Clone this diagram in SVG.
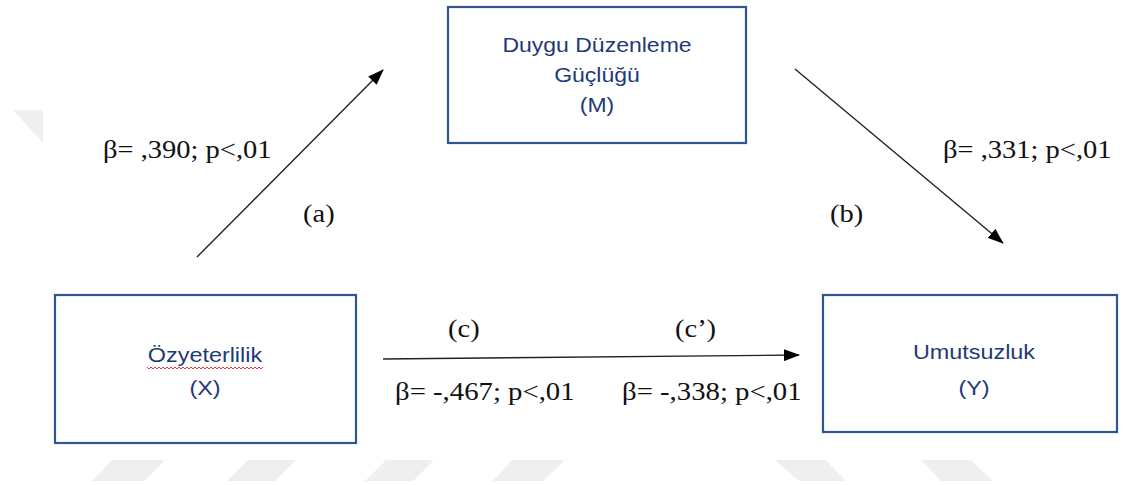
<svg xmlns="http://www.w3.org/2000/svg" width="1125" height="485" viewBox="0 0 1125 485">
<style>
.box{fill:#ffffff;stroke:#2f5597;stroke-width:2.2}
.lbl{font-family:"Liberation Sans",Arial,sans-serif;font-size:19.5px;fill:#1f3a78;text-anchor:middle}
.stat{font-family:"Liberation Serif","Times New Roman",serif;font-size:25px;fill:#111111}
.conn{stroke:#222222;stroke-width:1.4;fill:none;marker-end:url(#ah)}
.wm{fill:#efefef}
</style>
<defs>
<marker id="ah" viewBox="0 0 16 12" refX="15" refY="6" markerWidth="16" markerHeight="12" markerUnits="userSpaceOnUse" orient="auto">
<path d="M0,0 L16,6 L0,12 Z" fill="#000000"/>
</marker>
</defs>
<rect width="1125" height="485" fill="#ffffff"/>
<g id="watermark">
<polygon class="wm" points="13,110 43,110 43,143"/>
<polygon class="wm" points="112,460 165,460 145,481 92,481"/>
<polygon class="wm" points="248,460 296,460 275,481 227,481"/>
<polygon class="wm" points="386,460 434,460 413,481 365,481"/>
<polygon class="wm" points="512,460 565,460 543,481 493,481"/>
<polygon class="wm" points="775,460 826,460 846,481 799,481"/>
<polygon class="wm" points="921,460 971,460 993,481 941,481"/>
</g>
<g id="connectors">
<line class="conn" x1="197" y1="257" x2="383" y2="70"/>
<line class="conn" x1="795" y1="69" x2="1003" y2="243"/>
<line class="conn" x1="383" y1="359" x2="799" y2="355"/>
</g>
<g id="node-M">
<rect class="box" x="448" y="7" width="298" height="136"/>
<text class="lbl" transform="translate(597,52) scale(1.18,1)">Duygu Düzenleme</text>
<text class="lbl" transform="translate(597,82) scale(1.18,1)">Güçlüğü</text>
<text class="lbl" transform="translate(597,112) scale(1.18,1)">(M)</text>
</g>
<g id="node-X">
<rect class="box" x="55" y="295" width="301" height="148"/>
<text class="lbl" transform="translate(205,362) scale(1.2,1)">Özyeterlilik</text>
<path d="M147,367 l2,2 l2,-2 l2,2 l2,-2 l2,2 l2,-2 l2,2 l2,-2 l2,2 l2,-2 l2,2 l2,-2 l2,2 l2,-2 l2,2 l2,-2 l2,2 l2,-2 l2,2 l2,-2 l2,2 l2,-2 l2,2 l2,-2 l2,2 l2,-2 l2,2 l2,-2 l2,2 l2,-2 l2,2 l2,-2 l2,2 l2,-2 l2,2 l2,-2 l2,2 l2,-2 l2,2 l2,-2 l2,2 l2,-2 l2,2 l2,-2 l2,2 l2,-2 l2,2 l2,-2 l2,2 l2,-2 l2,2 l2,-2 l2,2 l2,-2 l2,2 l2,-2 l2,2 l2,-2" fill="none" stroke="#e02020" stroke-width="0.9"/>
<text class="lbl" transform="translate(205,395) scale(1.2,1)">(X)</text>
</g>
<g id="node-Y">
<rect class="box" x="823" y="295" width="294" height="137"/>
<text class="lbl" transform="translate(974,359) scale(1.2,1)">Umutsuzluk</text>
<text class="lbl" transform="translate(974,395) scale(1.2,1)">(Y)</text>
</g>
<g id="labels">
<text class="stat" transform="translate(103,158) scale(1.14,1)">β= ,390; p&lt;,01</text>
<text class="stat" transform="translate(303,222) scale(1.14,1)">(a)</text>
<text class="stat" transform="translate(943,158) scale(1.14,1)">β= ,331; p&lt;,01</text>
<text class="stat" transform="translate(830,222) scale(1.14,1)">(b)</text>
<text class="stat" transform="translate(448,337) scale(1.14,1)">(c)</text>
<text class="stat" transform="translate(675,337) scale(1.14,1)">(c’)</text>
<text class="stat" transform="translate(395,400) scale(1.15,1)">β= -,467; p&lt;,01</text>
<text class="stat" transform="translate(622,400) scale(1.15,1)">β= -,338; p&lt;,01</text>
</g>
</svg>
